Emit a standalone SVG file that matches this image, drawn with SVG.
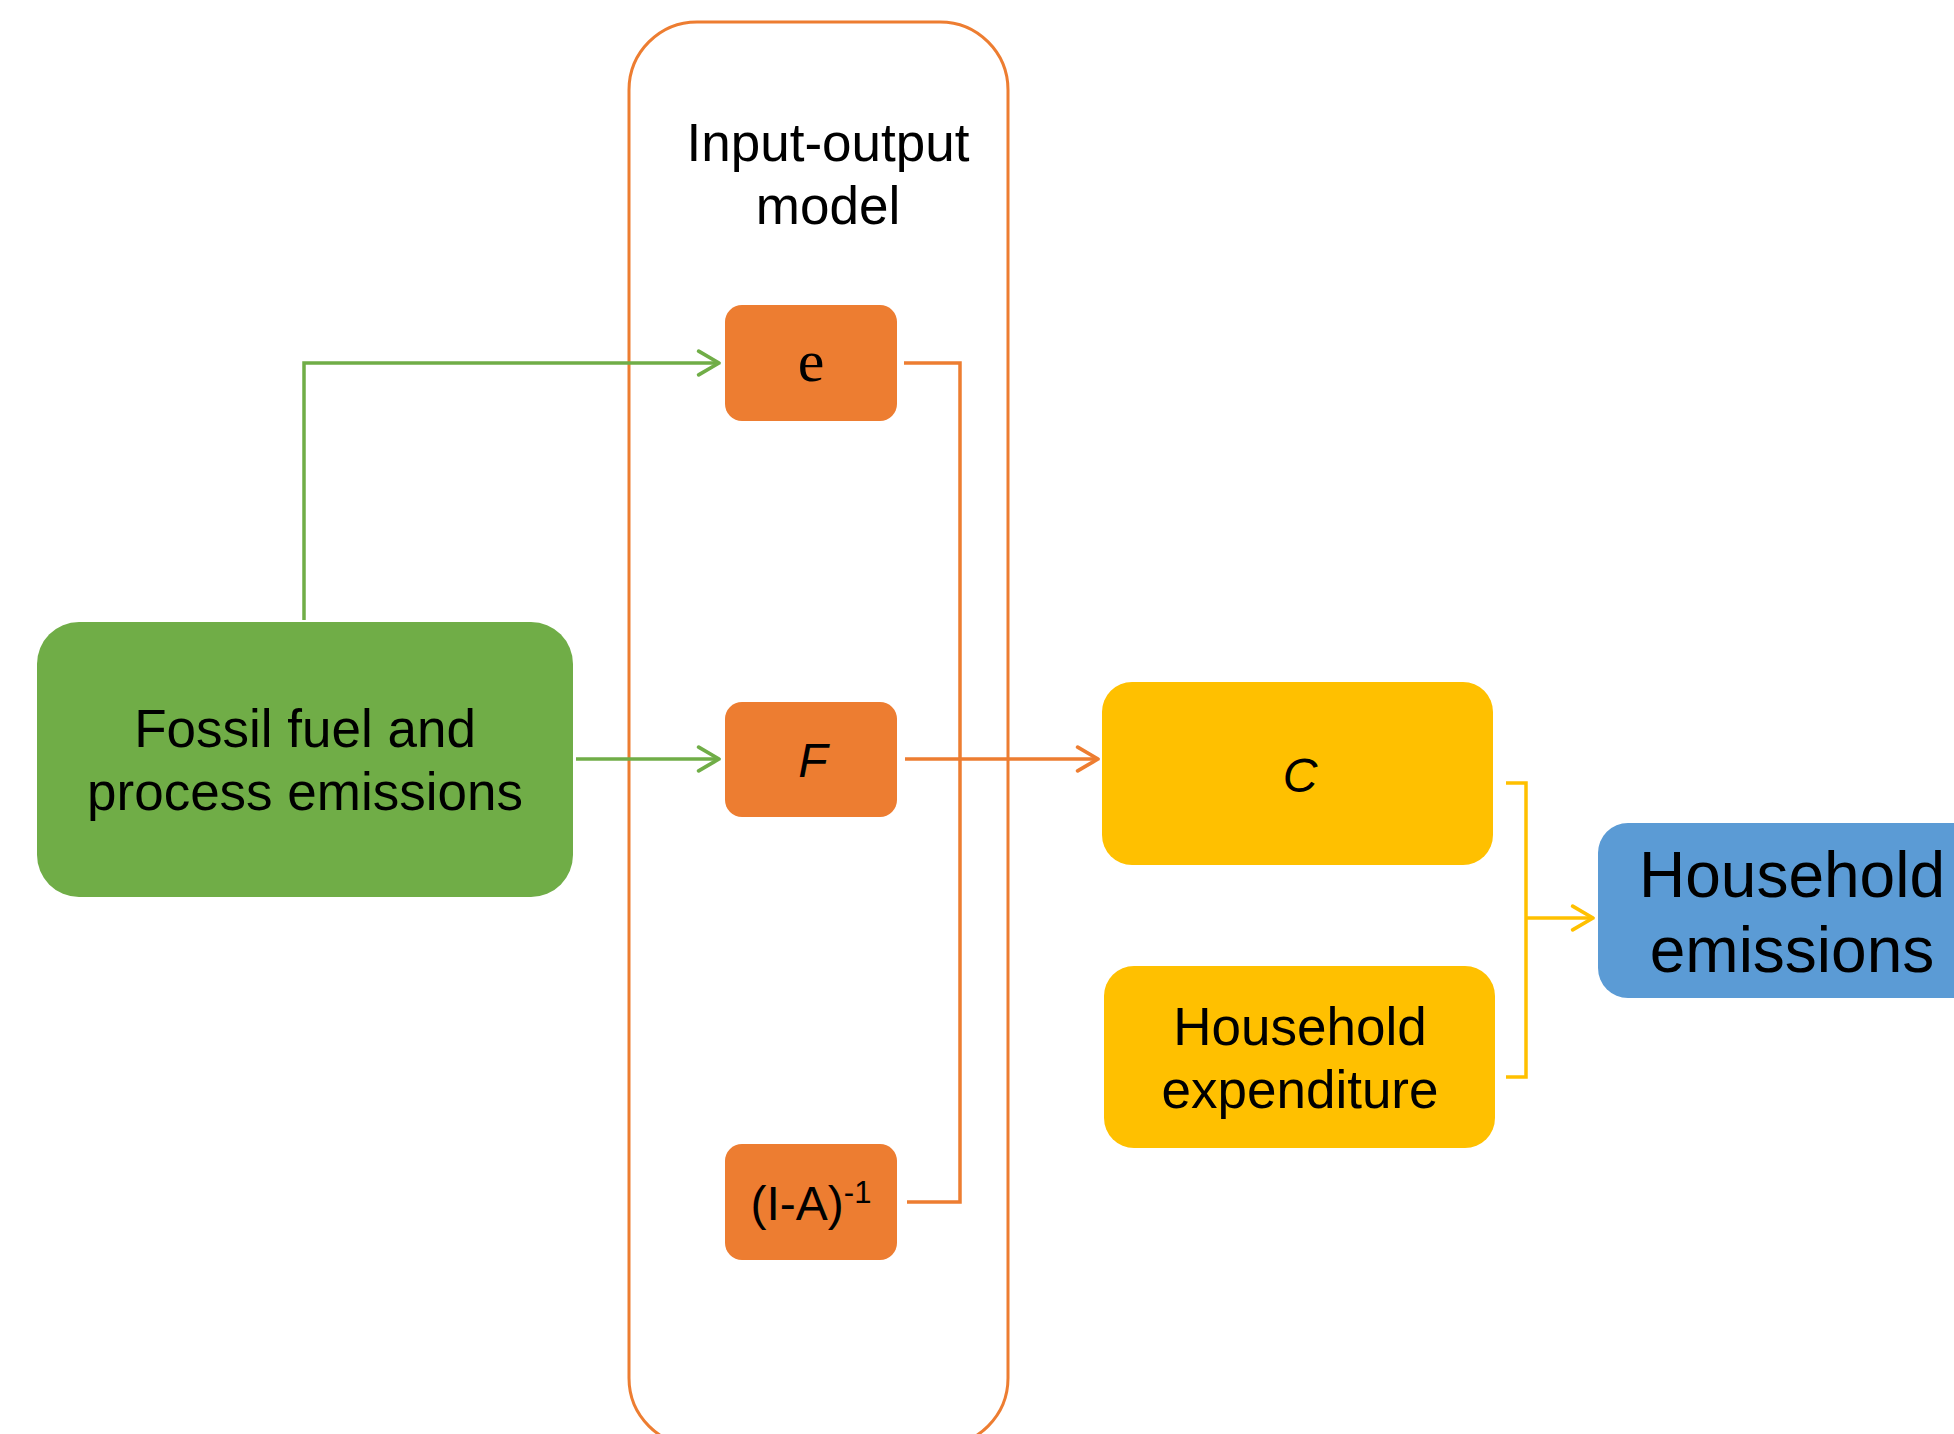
<svg xmlns="http://www.w3.org/2000/svg" width="1954" height="1434" viewBox="0 0 1954 1434">
  <style>
    text { font-family: "Liberation Sans", Arial, sans-serif; fill: #000; text-anchor: middle; }
    .t53 { font-size: 53px; }
    .conn { fill: none; stroke-width: 3.5; stroke-linejoin: miter; }
    .g { stroke: #70AD47; }
    .o { stroke: #ED7D31; }
    .y { stroke: #FFC000; }
  </style>
  <defs>
    <marker id="arrG" markerUnits="userSpaceOnUse" markerWidth="30" markerHeight="30" viewBox="-22 -14 26 28" refX="0" refY="0" orient="auto">
      <path d="M-19,-11 L0,0 L-19,11" fill="none" stroke="#70AD47" stroke-width="3.5" stroke-linecap="round" stroke-linejoin="round"/>
    </marker>
    <marker id="arrO" markerUnits="userSpaceOnUse" markerWidth="30" markerHeight="30" viewBox="-22 -14 26 28" refX="0" refY="0" orient="auto">
      <path d="M-19,-11 L0,0 L-19,11" fill="none" stroke="#ED7D31" stroke-width="3.5" stroke-linecap="round" stroke-linejoin="round"/>
    </marker>
    <marker id="arrY" markerUnits="userSpaceOnUse" markerWidth="30" markerHeight="30" viewBox="-22 -14 26 28" refX="0" refY="0" orient="auto">
      <path d="M-19,-11 L0,0 L-19,11" fill="none" stroke="#FFC000" stroke-width="3.5" stroke-linecap="round" stroke-linejoin="round"/>
    </marker>
  </defs>
  <rect width="1954" height="1434" fill="#FFFFFF"/>

  <g id="io-model">
    <rect x="629" y="22" width="379" height="1424" rx="68" ry="68" fill="none" stroke="#ED7D31" stroke-width="3"/>
    <text class="t53" x="828" y="161">Input-output</text>
    <text class="t53" x="828" y="224">model</text>
  </g>

  <g id="connectors">
    <path class="conn g" d="M304,620 V363 H719" marker-end="url(#arrG)"/>
    <path class="conn g" d="M576,759 H719" marker-end="url(#arrG)"/>
    <path class="conn o" d="M904,363 H960 V1202 H907"/>
    <path class="conn o" d="M905,759 H1098" marker-end="url(#arrO)"/>
    <path class="conn y" d="M1506,783 H1526 V1077 H1506"/>
    <path class="conn y" d="M1526,918 H1593" marker-end="url(#arrY)"/>
  </g>

  <g id="fossil">
    <rect x="37" y="622" width="536" height="275" rx="42" ry="42" fill="#70AD47"/>
    <text class="t53" x="305" y="747">Fossil fuel and</text>
    <text class="t53" x="305" y="810">process emissions</text>
  </g>

  <g id="e">
    <rect x="725" y="305" width="172" height="116" rx="17" ry="17" fill="#ED7D31"/>
    <text x="811" y="381" style="font-family: 'Liberation Serif', 'Times New Roman', serif; font-size: 60px;">e</text>
  </g>

  <g id="F">
    <rect x="725" y="702" width="172" height="115" rx="17" ry="17" fill="#ED7D31"/>
    <text x="813" y="777" font-size="48" font-style="italic">F</text>
  </g>

  <g id="leontief">
    <rect x="725" y="1144" width="172" height="116" rx="17" ry="17" fill="#ED7D31"/>
    <text x="811" y="1220" font-size="48">(I-A)<tspan dy="-17" font-size="31">-1</tspan></text>
  </g>

  <g id="C">
    <rect x="1102" y="682" width="391" height="183" rx="30" ry="30" fill="#FFC000"/>
    <text x="1300" y="792" font-size="48" font-style="italic">C</text>
  </g>

  <g id="household-expenditure">
    <rect x="1104" y="966" width="391" height="182" rx="30" ry="30" fill="#FFC000"/>
    <text class="t53" x="1300" y="1045">Household</text>
    <text class="t53" x="1300" y="1108">expenditure</text>
  </g>

  <g id="household-emissions">
    <rect x="1598" y="823" width="388" height="175" rx="30" ry="30" fill="#5B9BD5"/>
    <text x="1792" y="897" font-size="64">Household</text>
    <text x="1792" y="972" font-size="64">emissions</text>
  </g>
</svg>
